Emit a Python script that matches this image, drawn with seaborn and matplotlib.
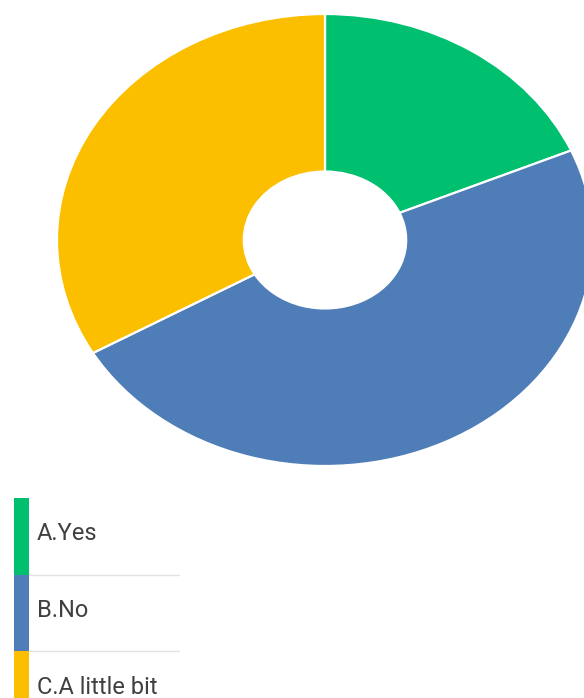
import matplotlib
matplotlib.use("Agg")
import matplotlib.pyplot as plt
import seaborn as sns

categories = ["A.Yes", "B.No", "C.A little bit"]
counts = [5, 13, 9]
colors = ["#00BF6F", "#4E7DB8", "#FBBF00"]

sns.set_theme(style="white")
plt.rcParams['font.family'] = ['Roboto', 'DejaVu Sans']

W, H = 584, 698
fig = plt.figure(figsize=(W / 100, H / 100), dpi=100)
fig.patch.set_facecolor("white")

# donut axes (elliptical), placed in pixel terms
cx, cy, rx, ry = 325, 240, 268, 226
ax = fig.add_axes([(cx - rx) / W, (H - (cy + ry)) / H, 2 * rx / W, 2 * ry / H])
ax.pie(counts, colors=colors, startangle=90, counterclock=False,
       radius=1.0, wedgeprops=dict(width=0.697, edgecolor="white", linewidth=1.6))
ax.set_aspect("auto")
ax.set_xlim(-1, 1)
ax.set_ylim(-1, 1)
ax.axis("off")

# legend axes in pixel coordinates
lg = fig.add_axes([0, 0, 1, (H - 480) / H])
lg.set_xlim(0, W)
lg.set_ylim(H, 480)
lg.axis("off")
row_top = 498
row_h = 76.5
for i, (lab, col) in enumerate(zip(categories, colors)):
    top = row_top + i * row_h
    lg.bar(21.5, row_h, bottom=top, width=15, color=col, linewidth=0)
    lg.text(37, top + 36, lab, fontsize=17, color="#404040", va="center", ha="left")
    if i < len(categories) - 1:
        lg.plot([29, 179], [top + row_h, top + row_h], color="#e3e3e3", lw=1)

fig.savefig("out.png", dpi=100, facecolor="white")
